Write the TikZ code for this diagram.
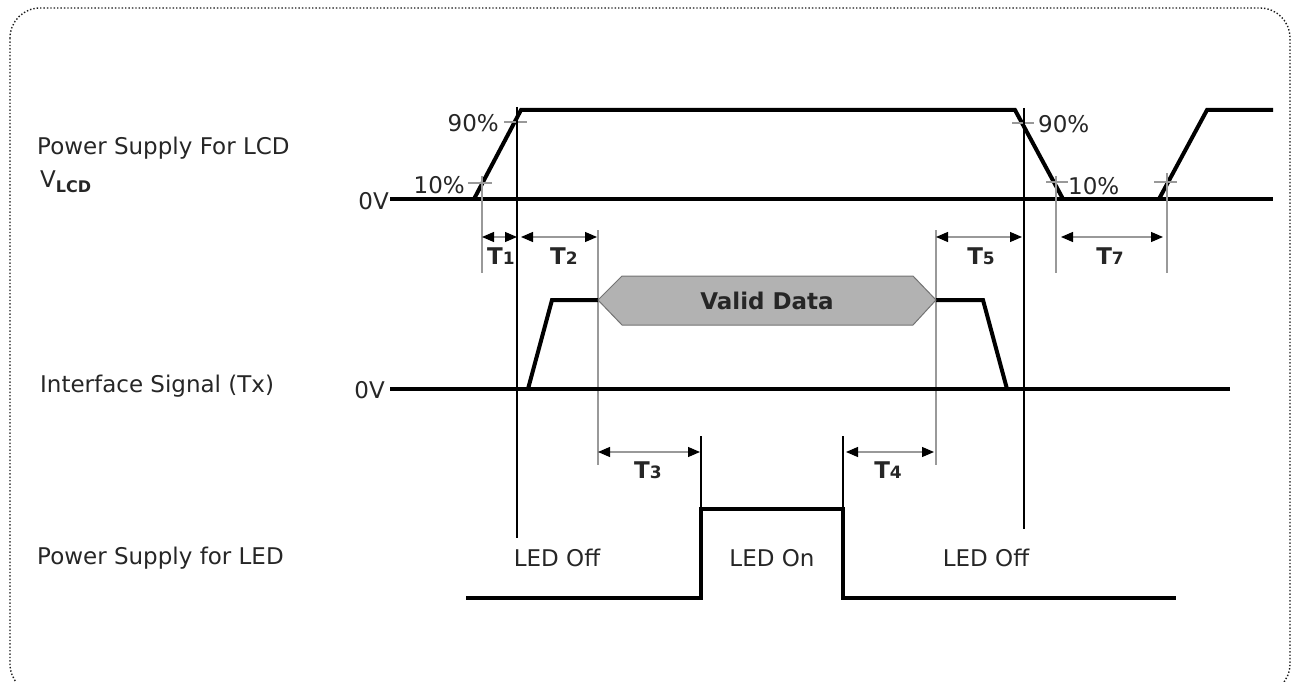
\documentclass[tikz,border=0pt]{standalone}
\usepackage{fontspec}
\setmainfont{DejaVu Sans}
\usetikzlibrary{arrows.meta}
\begin{document}
\begin{tikzpicture}[x=1pt,y=-1pt,
  txt/.style={inner sep=0pt, font=\fontsize{23}{27}\selectfont, text=black!85},
  tlab/.style={inner sep=0pt, font=\fontsize{23}{27}\selectfont\bfseries, text=black!85},
  wave/.style={line width=4pt, line join=miter, line cap=butt},
  vline/.style={line width=1.2pt, black},
  gline/.style={line width=1.2pt, black!40},
  dim/.style={line width=1.2pt, black!40, {Triangle[length=12pt,width=10pt,color=black]}-{Triangle[length=12pt,width=10pt,color=black]}},
  ]
\useasboundingbox (0,0) rectangle (1293,682);
\draw[dotted, line width=1.4pt, black!90, rounded corners=30pt] (10,8) rectangle (1290,694);

% left labels
\node[txt, anchor=west] (lcd) at (37,148) {Power Supply For LCD};
\node[txt, anchor=west] (vlcd) at (40,182) {V\raisebox{-5pt}{\fontsize{16}{18}\selectfont\bfseries LCD}};
\node[txt, anchor=west] (ifs) at (40,386) {Interface Signal (Tx)};
\node[txt, anchor=west] (led) at (37,558) {Power Supply for LED};

% VLCD waveform
\node[txt, anchor=east] (zv1) at (389,201) {0V};
\draw[wave] (zv1.east) ++(1,-2) -- (1273,199);
\draw[wave] (474,199) -- (521,110) -- (1015,110) -- (1063,199);
\draw[wave] (1159,199) -- (1207,110) -- (1273,110);

% percent ticks
\draw[gline] (468,183) -- (492,183);
\draw[gline] (504,122) -- (527,122);
\draw[gline] (1012,123) -- (1034,123);
\draw[gline] (1046,182) -- (1068,182);
\draw[gline] (1154,182) -- (1177,182);
\node[txt, anchor=east] (p10a) at (465,185) {10\%};
\node[txt, anchor=east] (p90a) at (499,123) {90\%};
\node[txt, anchor=west] (p90b) at (1038,124) {90\%};
\node[txt, anchor=west] (p10b) at (1068,186) {10\%};

% marker lines
\coordinate (a1) at (482,176); \coordinate (a2) at (482,273);
\coordinate (b1) at (517,107); \coordinate (b2) at (517,538);
\coordinate (c1) at (598,230); \coordinate (c2) at (598,465);
\coordinate (d1) at (936,230); \coordinate (d2) at (936,465);
\coordinate (e1) at (1024,108); \coordinate (e2) at (1024,529);
\coordinate (f1) at (1056,176); \coordinate (f2) at (1056,273);
\coordinate (g1) at (1167,173); \coordinate (g2) at (1167,273);
\coordinate (h1) at (701,436); \coordinate (h2) at (701,509);
\coordinate (k1) at (843,436); \coordinate (k2) at (843,509);
\draw[gline] (a1) -- (a2);
\draw[vline] (b1) -- (b2);
\draw[gline] (c1) -- (c2);
\draw[gline] (d1) -- (d2);
\draw[vline] (e1) -- (e2);
\draw[gline] (f1) -- (f2);
\draw[gline] (g1) -- (g2);
\draw[vline] (h1) -- (h2);
\draw[vline] (k1) -- (k2);

% dimension arrows
\coordinate (t1a) at (482,237); \coordinate (t1b) at (517,237);
\coordinate (t2a) at (521,237); \coordinate (t2b) at (597,237);
\coordinate (t5a) at (936,237); \coordinate (t5b) at (1022,237);
\coordinate (t7a) at (1061,237); \coordinate (t7b) at (1163,237);
\coordinate (t3a) at (598,452); \coordinate (t3b) at (700,452);
\coordinate (t4a) at (846,452); \coordinate (t4b) at (934,452);
\draw[dim] (t1a) -- (t1b);
\draw[dim] (t2a) -- (t2b);
\draw[dim] (t5a) -- (t5b);
\draw[dim] (t7a) -- (t7b);
\draw[dim] (t3a) -- (t3b);
\draw[dim] (t4a) -- (t4b);
\node[tlab] (T1) at (501,256) {T{\fontsize{17}{19}\selectfont 1}};
\node[tlab] (T2) at (564,256) {T{\fontsize{17}{19}\selectfont 2}};
\node[tlab] (T5) at (981,256) {T{\fontsize{17}{19}\selectfont 5}};
\node[tlab] (T7) at (1110,256) {T{\fontsize{17}{19}\selectfont 7}};
\node[tlab] (T3) at (648,470) {T{\fontsize{17}{19}\selectfont 3}};
\node[tlab] (T4) at (888,470) {T{\fontsize{17}{19}\selectfont 4}};

% interface signal
\node[txt, anchor=east] (zv2) at (385,390) {0V};
\draw[wave] (390,389) -- (1230,389);
\draw[wave] (528,389) -- (552,300) -- (598,300);
\draw[wave] (936,300) -- (983,300) -- (1007,389);
\draw[fill=black!30, draw=black!55, line width=1pt] (598,300) -- (622,276) -- (913,276) -- (936,300) -- (913,325) -- (622,325) -- cycle;
\node[tlab] (vd) at (767,301) {Valid Data};

% LED supply
\draw[wave] (466,598) -- (701,598) -- (701,509) -- (843,509) -- (843,598) -- (1176,598);
\node[txt] (off1) at (557,558) {LED Off};
\node[txt] (on) at (772,558) {LED On};
\node[txt] (off2) at (986,558) {LED Off};
\end{tikzpicture}
\end{document}
